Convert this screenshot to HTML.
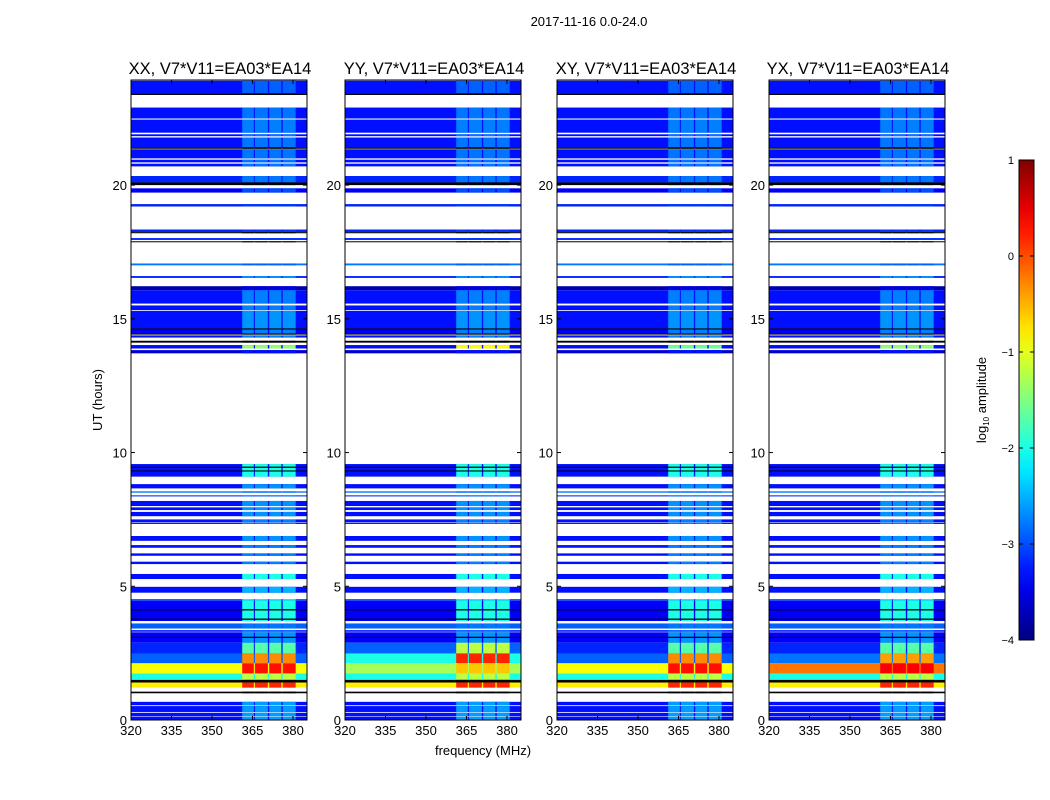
<!DOCTYPE html>
<html><head><meta charset="utf-8">
<style>
body{margin:0;background:#fff;}
svg{display:block;font-family:"Liberation Sans",sans-serif;}
</style></head>
<body>
<svg id="fig" width="1050" height="800" xmlns="http://www.w3.org/2000/svg">
<rect width="1050" height="800" fill="#fff"/>
<text x="589" y="26" font-size="13" text-anchor="middle">2017-11-16 0.0-24.0</text>
<text x="483" y="755" font-size="13" text-anchor="middle">frequency (MHz)</text>
<text transform="translate(102,400) rotate(-90)" font-size="13" text-anchor="middle">UT (hours)</text>
<text transform="translate(986,400) rotate(-90)" font-size="13" text-anchor="middle">log<tspan font-size="8" dy="3">10</tspan><tspan dy="-3"> amplitude</tspan></text>
<g id="panels"></g>
<g id="cbar"></g>
</svg>
<script>
// ---- data ----
const panelTitles = ["XX, V7*V11=EA03*EA14","YY, V7*V11=EA03*EA14","XY, V7*V11=EA03*EA14","YX, V7*V11=EA03*EA14"];
const xTicks = [320,335,350,365,380];
const yTicks = [0,5,10,15,20];
const cbTicks = [1,0,-1,-2,-3,-4];
// time rows: start hour, end hour, background log-amp, band log-amp ("k" = black line)
const rowStart = [23.43,23.37,22.49,21.96,21.83,21.41,21.36,21.0,20.85,20.7,20.1,20.0,19.72,19.2,18.24,18.2,17.95,17.88,17.0,16.53,16.07,15.57,15.33,14.64,14.6,14.45,14.41,14.3,14.11,13.89,13.71,
 9.1,9.44,9.3,8.66,8.5,8.36,8.0,7.85,7.62,7.4,7.33,6.7,6.44,6.14,5.83,5.27,4.76,4.46,3.7,4.1,3.75,3.42,3.3,2.89,3.07,2.48,2.12,1.74,1.5,1.4,1.21,1.0,0.55,0.3,0.15,0.0];
const rowEnd   = [23.9,23.43,22.9,22.45,21.9,21.78,21.41,21.34,20.95,20.8,20.34,20.1,19.88,19.29,18.34,18.24,18.02,17.9,17.07,16.6,16.22,16.07,15.5,15.3,14.64,14.6,14.45,14.38,14.18,14.02,13.83,
 9.57,9.47,9.33,8.82,8.55,8.4,8.19,7.95,7.78,7.5,7.38,6.88,6.54,6.23,5.92,5.46,4.98,4.52,4.46,4.14,3.79,3.61,3.36,3.28,3.11,2.89,2.49,2.12,1.74,1.5,1.4,1.06,0.68,0.52,0.27,0.13];
const rowBg    = [-3.3,"k",-3.3,-3.3,-3.3,-3.3,"k",-3.3,-3.3,-3.3,-3.2,"k",-3.4,-3.2,-3.2,"k",-3.2,"k",-2.8,-3.2,-3.8,-3.3,-3.3,-3.3,"k",-3.4,"k",-3.3,"k",-3.3,-3.6,
 -3.3,"k","k",-3.3,-2.8,-3.2,-3.3,-3.3,-3.3,-3.3,-3.3,-3.3,-3.3,-3.3,-3.3,-3.3,-3.3,-3.0,-3.4,"k","k",-2.9,-3.3,-3.4,"k",-3.2,-2.9,-0.9,-2.0,"k",-0.8,"k",-3.3,-3.3,-3.3,-3.3];
const rowBand  = [-2.9,"k",-2.8,-2.75,-2.8,-2.8,"k",-2.8,-2.8,-2.8,-2.8,"k",-3.0,-3.1,-3.1,"k",-3.1,"k",-2.9,-2.65,-3.5,-2.75,-2.75,-2.65,"k",-2.75,"k",-2.75,"k",-1.4,-3.3,
 -2.0,"k","k",-2.65,-2.8,-2.8,-2.65,-2.65,-2.65,-2.75,-2.75,-2.65,-2.75,-2.75,-2.75,-2.0,-2.5,-2.1,-2.0,"k","k",-2.8,-2.8,-2.65,"k",-1.7,-0.3,0.3,-1.2,"k",0.2,"k",-2.6,-2.6,-2.6,-2.6];
// per-panel overrides: panel index, row index, bg, band
const ovPanel = [1,1,1,1,3,3,2];
const ovRow   = [29,57,58,56,58,57,29];
const ovBg    = [-3.3,-2.0,-1.3,-2.9,-0.2,-2.8,-3.3];
const ovBand  = [-0.9,0.2,-0.6,-1.2,0.4,-0.4,-1.6];
// bright frequency channels (MHz)
const bandLo = [361.2,365.9,371.2,376.2];
const bandHi = [365.5,370.7,375.7,381];

// ---- layout ----
const NS="http://www.w3.org/2000/svg";
const px0=[131,345,557,769], pw=176, pTop=80, pBot=720, hmax=23.93, fmin=320, fmax=385.2;
const yS=h=>pBot-(h/hmax)*(pBot-pTop);
function jet(v){let t=Math.max(0,Math.min(1,(v+4)/5));
 const c=x=>Math.round(255*Math.max(0,Math.min(1,x)));
 return `rgb(${c(1.5-Math.abs(4*t-3))},${c(1.5-Math.abs(4*t-2))},${c(1.5-Math.abs(4*t-1))})`;}
const col=v=>v==="k"?"#000":jet(v);
function mk(tag,attrs,parent){const e=document.createElementNS(NS,tag);for(const k in attrs)e.setAttribute(k,attrs[k]);parent.appendChild(e);return e;}
const G=document.getElementById('panels');
for(let p=0;p<4;p++){
 const x0=px0[p]; const xS=f=>x0+(f-fmin)/(fmax-fmin)*pw;
 const g=mk('g',{},G);
 
 
 const t=mk('text',{x:x0+pw/2+1,y:74,'font-size':16.5,'text-anchor':'middle'},g);t.textContent=panelTitles[p];
 
 
 for(let i=0;i<rowStart.length;i++){
  let bg=rowBg[i], band=rowBand[i];
  for(let o=0;o<ovPanel.length;o++) if(ovPanel[o]===p&&ovRow[o]===i){bg=ovBg[o];band=ovBand[o];}
  const y1=yS(rowEnd[i]), y2=yS(rowStart[i]);
  const r=mk('rect',{x:x0,y:y1,width:pw,height:Math.max(1,y2-y1),fill:col(bg)},g);
  
  
  for(let b=0;b<bandLo.length;b++){
   const bx=xS(bandLo[b]), bw=xS(bandHi[b])-bx;
   const c=mk('rect',{x:bx,y:y1,width:bw,height:Math.max(1,y2-y1),fill:col(band)},g);
   
   
  }
 }
 const fr=mk('rect',{x:x0,y:pTop,width:pw,height:pBot-pTop,fill:'none',stroke:'#000','stroke-width':1},g);
 
 
 xTicks.forEach(f=>{const x=xS(f);
  mk('line',{x1:x,x2:x,y1:pBot,y2:pBot-4,stroke:'#000'},g);mk('line',{x1:x,x2:x,y1:pTop,y2:pTop+4,stroke:'#000'},g);
  const l=mk('text',{x:x,y:pBot+15,'font-size':13,'text-anchor':'middle'},g);l.textContent=f;
  
  });
 yTicks.forEach(h=>{const y=yS(h);
  mk('line',{x1:x0,x2:x0+4,y1:y,y2:y,stroke:'#000'},g);mk('line',{x1:x0+pw,x2:x0+pw-4,y1:y,y2:y,stroke:'#000'},g);
  const l=mk('text',{x:x0-4,y:y+5,'font-size':13,'text-anchor':'end'},g);l.textContent=h;
  
  });
}
// colorbar
const C=document.getElementById('cbar');
const cbX=1019,cbW=15,cbTop=160,cbBot=640;
const defs=mk('defs',{},C);const lg=mk('linearGradient',{id:'jetg',x1:0,y1:1,x2:0,y2:0},defs);
for(let i=0;i<=20;i++){mk('stop',{offset:i/20,'stop-color':jet(-4+5*i/20)},lg);}
const cb=mk('rect',{x:cbX,y:cbTop,width:cbW,height:cbBot-cbTop,fill:'url(#jetg)',stroke:'#000'},C);


cbTicks.forEach(v=>{const y=cbBot-(v+4)/5*(cbBot-cbTop);
 mk('line',{x1:cbX,x2:cbX+4,y1:y,y2:y,stroke:'#000'},C);mk('line',{x1:cbX+cbW,x2:cbX+cbW-4,y1:y,y2:y,stroke:'#000'},C);
 const l=mk('text',{x:cbX-5,y:y+4,'font-size':11,'text-anchor':'end'},C);l.textContent=v<0?'\u2212'+(-v):v;
 
 });
</script>
</body></html>
